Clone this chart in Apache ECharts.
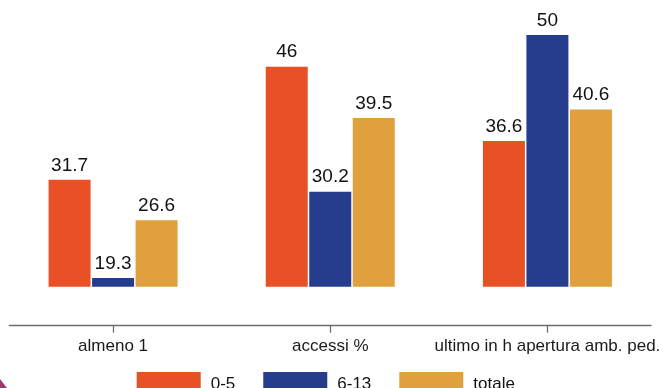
<!DOCTYPE html>
<html>
<head>
<meta charset="utf-8">
<script src="https://cdn.jsdelivr.net/npm/echarts@6/dist/echarts.min.js"></script>
<style>html,body{margin:0;padding:0;background:#fff;}#c{width:664px;height:388px;}</style>
</head>
<body>
<div id="c"></div>
<script>
var categories = ['almeno 1', 'accessi %', 'ultimo in h apertura amb. ped.'];
var seriesNames = ['0-5', '6-13', 'totale'];
var values05 = [31.7, 46, 36.6];
var values613 = [19.3, 30.2, 50];
var valuesTot = [26.6, 39.5, 40.6];
var colors = ['#E85026', '#263C8C', '#E1A03E'];
var FONT = '"Liberation Sans", Arial, Helvetica, sans-serif';

var chart = echarts.init(document.getElementById('c'), null, {renderer: 'canvas'});
function mk(name, data, color) {
  return {
    name: name, type: 'bar', data: data, xAxisIndex: 0, yAxisIndex: 0,
    barWidth: 42, barGap: '3.6%',
    itemStyle: {color: color},
    label: {show: true, position: 'top', distance: 5, fontSize: 19, color: '#111', fontFamily: FONT},
    emphasis: {disabled: true}
  };
}
chart.setOption({
  animation: false,
  backgroundColor: '#fff',
  textStyle: {fontFamily: FONT},
  grid: [
    {left: 4.5, right: 8, top: 35, bottom: 101.3},
    {left: 9.3, right: 13, top: 35, bottom: 101.3}
  ],
  legend: {
    left: 136.7, top: 372, padding: 0, itemWidth: 64, itemHeight: 24, itemGap: 28,
    icon: 'rect',
    data: seriesNames,
    textStyle: {fontSize: 17, color: '#111', fontFamily: FONT, padding: [0, 0, 0, 5]}
  },
  xAxis: [
    {
      type: 'category', gridIndex: 0, data: categories, offset: 39,
      axisLine: {show: false},
      axisTick: {show: true, alignWithLabel: true, length: 7, lineStyle: {color: '#6e6e6e', width: 1.3}},
      axisLabel: {interval: 0, hideOverlap: false, fontSize: 17, color: '#1a1a1a', margin: 12, fontFamily: FONT}
    },
    {
      type: 'category', gridIndex: 1, data: categories, offset: 39,
      axisLine: {show: true, lineStyle: {color: '#6e6e6e', width: 1.3}},
      axisTick: {show: false},
      axisLabel: {show: false}
    }
  ],
  yAxis: [
    {type: 'value', gridIndex: 0, min: 18.2, max: 50, show: false, splitLine: {show: false}},
    {type: 'value', gridIndex: 1, min: 18.2, max: 50, show: false, splitLine: {show: false}}
  ],
  graphic: [{
    type: 'polygon', shape: {points: [[0, 379], [0, 388], [7, 388]]},
    style: {fill: '#a3386e'}, silent: true
  }],
  series: [
    mk(seriesNames[0], values05, colors[0]),
    mk(seriesNames[1], values613, colors[1]),
    mk(seriesNames[2], valuesTot, colors[2])
  ]
});
</script>
</body>
</html>
